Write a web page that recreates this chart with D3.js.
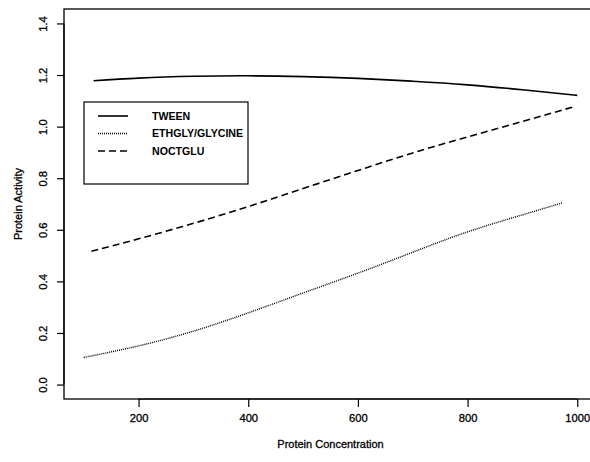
<!DOCTYPE html>
<html><head><meta charset="utf-8">
<script src="https://cdn.jsdelivr.net/npm/d3@7"></script>
<style>body{margin:0;background:#fff}svg{display:block}text{font-family:"Liberation Sans",Arial,sans-serif;fill:#000}</style>
</head><body><svg id="c" width="590" height="462"></svg>
<script>
const seriesNames = ["TWEEN", "ETHGLY/GLYCINE", "NOCTGLU"];
const tweenX = [118, 200, 300, 400, 500, 600, 700, 800, 900, 1000];
const tweenY = [1.178, 1.188, 1.195, 1.197, 1.194, 1.187, 1.176, 1.162, 1.143, 1.121];
const ethglyX = [100, 200, 300, 400, 500, 600, 700, 800, 900, 972];
const ethglyY = [0.105, 0.150, 0.207, 0.278, 0.355, 0.432, 0.513, 0.592, 0.658, 0.704];
const noctX = [114, 200, 300, 400, 500, 600, 700, 800, 900, 992];
const noctY = [0.517, 0.565, 0.625, 0.690, 0.760, 0.830, 0.898, 0.960, 1.020, 1.076];
const xTicks = [200, 400, 600, 800, 1000];
const yTicks = [0.0, 0.2, 0.4, 0.6, 0.8, 1.0, 1.2, 1.4];
const xLabel = "Protein Concentration";
const yLabel = "Protein Activity";

const svg = d3.select("#c");
const L = 64, R = 597, T = 9, B = 399;
const x = d3.scaleLinear().domain([64, 1036]).range([L, R]);
const y = d3.scaleLinear().domain([-0.056, 1.456]).range([B, T]);
const txtStroke = (s) => s.attr("stroke", "#000").attr("stroke-width", 0.3);

svg.append("rect").attr("x", L).attr("y", T).attr("width", R - L).attr("height", B - T)
  .attr("fill", "none").attr("stroke", "#000").attr("stroke-width", 1.3);

const xa = svg.append("g").attr("transform", `translate(0,${B})`)
  .call(d3.axisBottom(x).tickValues(xTicks).tickSize(8).tickPadding(7).tickFormat(d3.format("d")));
xa.select(".domain").attr("d", `M${x(xTicks[0])},0H${x(xTicks[xTicks.length-1])}`).attr("stroke-width", 1.2);
xa.selectAll(".tick line").attr("stroke-width", 1.2);
xa.selectAll("text").attr("font-size", 11.2).attr("font-family", "Liberation Sans, Arial, sans-serif").call(txtStroke);

const ya = svg.append("g").attr("transform", `translate(${L},0)`)
  .call(d3.axisLeft(y).tickValues(yTicks).tickSize(7).tickFormat(d3.format(".1f")));
ya.select(".domain").attr("d", `M0,${y(yTicks[0])}V${y(yTicks[yTicks.length-1])}`).attr("stroke-width", 1.2);
ya.selectAll(".tick line").attr("stroke-width", 1.2);
ya.selectAll("text").attr("font-size", 11.2).attr("font-family", "Liberation Sans, Arial, sans-serif")
  .attr("transform", "rotate(-90)").attr("x", 0).attr("y", -21).attr("dy", "0.35em")
  .attr("text-anchor", "middle").call(txtStroke);

svg.append("text").attr("x", (L + R) / 2).attr("y", 448).attr("text-anchor", "middle")
  .attr("font-size", 11).text(xLabel).call(txtStroke);
svg.append("text").attr("transform", `translate(22,${(T + B) / 2}) rotate(-90)`)
  .attr("text-anchor", "middle").attr("font-size", 11).text(yLabel).call(txtStroke);

const line = d3.line().x(d => x(d[0])).y(d => y(d[1])).curve(d3.curveNatural);
const styles = [
  {dash: null, w: 1.6},
  {dash: "1,1", w: 1.4},
  {dash: "7,4", w: 1.6}
];
const data = [
  d3.zip(tweenX, tweenY),
  d3.zip(ethglyX, ethglyY),
  d3.zip(noctX, noctY)
];
data.forEach((d, i) => {
  svg.append("path").attr("d", line(d)).attr("fill", "none").attr("stroke", "#000")
    .attr("stroke-width", styles[i].w).attr("stroke-dasharray", styles[i].dash);
});

const lg = svg.append("g");
lg.append("rect").attr("x", 84).attr("y", 102).attr("width", 164).attr("height", 82)
  .attr("fill", "#fff").attr("stroke", "#000").attr("stroke-width", 1.2);
seriesNames.forEach((n, i) => {
  const yy = 116 + i * 17.5;
  lg.append("line").attr("x1", 98).attr("x2", 128).attr("y1", yy).attr("y2", yy)
    .attr("stroke", "#000").attr("stroke-width", styles[i].w).attr("stroke-dasharray", styles[i].dash);
  lg.append("text").attr("x", 152).attr("y", yy).attr("dy", "0.35em").attr("font-size", 10.6)
    .attr("font-weight", "bold").text(n);
});
</script></body></html>
